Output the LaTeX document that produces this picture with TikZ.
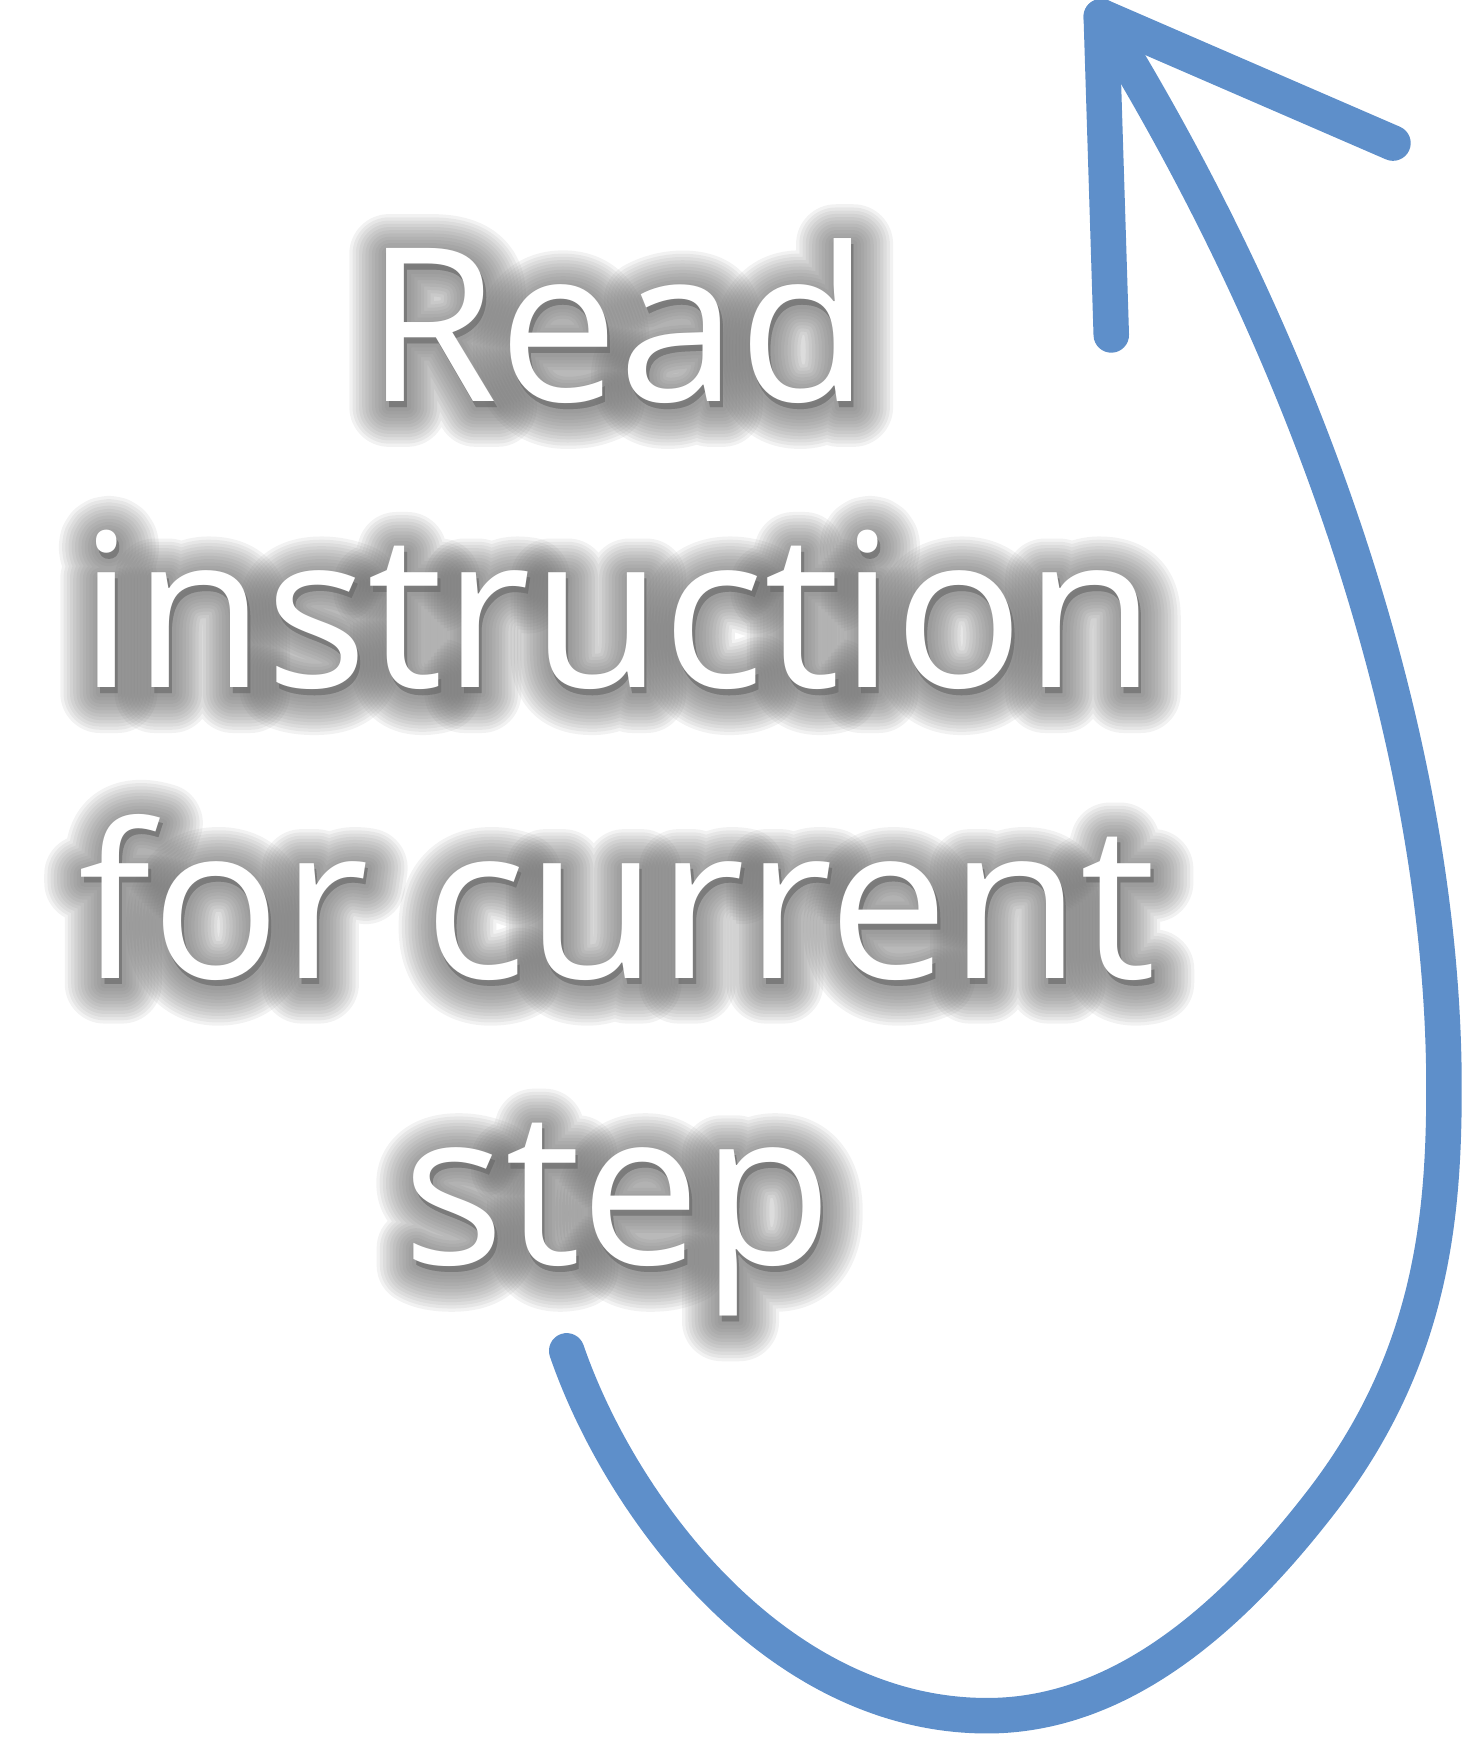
\documentclass[tikz,border=0pt]{standalone}
\usepackage{fontspec}
\setmainfont{Open Sans}
\usepackage{tikz}
\definecolor{ArrowBlue}{HTML}{5E8FCA}
\definecolor{GlowGray}{HTML}{6A6A6A}

\tikzset{
  txtline/.style={font=\fontsize{55}{60}\selectfont, anchor=base, inner sep=0pt, text=white},
  glow/.style={anchor=base, inner sep=0pt, text=GlowGray, opacity=0.085, line join=round, miter limit=1},
  loop arrow/.style={draw=ArrowBlue, line width=0.32cm, line cap=round, line join=round}
}

\begin{document}
\begin{tikzpicture}[x=0.01cm, y=-0.01cm]
\useasboundingbox (0,0) rectangle (1320,1568);

% --- soft grey glow behind the text ---
\foreach \lab/\yb [count=\i] in {Read/362, instruction/620, for current/882, step/1140}{
  \foreach \fb [count=\k] in {4,7,...,37}
    \node[glow, font={\fontspec{Open Sans}[FakeBold=\fb]\fontsize{55}{60}\selectfont}]
      (g-\i-\k) at (559,\yb+5) {\lab};
}

% --- white text lines ---
\foreach \lab/\yb [count=\i] in {Read/362, instruction/620, for current/882, step/1140}
  \node[txtline] (line-\i) at (557,\yb) {\lab};

% --- loop arrow ---
\coordinate (start) at (511,1218);
\coordinate (bottom) at (890,1547);
\coordinate (lower-right) at (1193,1352);
\coordinate (right) at (1302,981);
\coordinate (tip) at (993,15);
\coordinate (barb-l) at (1002,302);
\coordinate (barb-r) at (1256,129);

\draw[loop arrow] (start) .. controls (560,1360) and (700,1547) .. (bottom)
  .. controls (1010,1547) and (1110,1460) .. (lower-right)
  .. controls (1290,1225) and (1302,1100) .. (right)
  .. controls (1302,700) and (1200,350) .. (tip);
\draw[loop arrow] (barb-l) -- (tip) -- (barb-r);
\end{tikzpicture}
\end{document}
